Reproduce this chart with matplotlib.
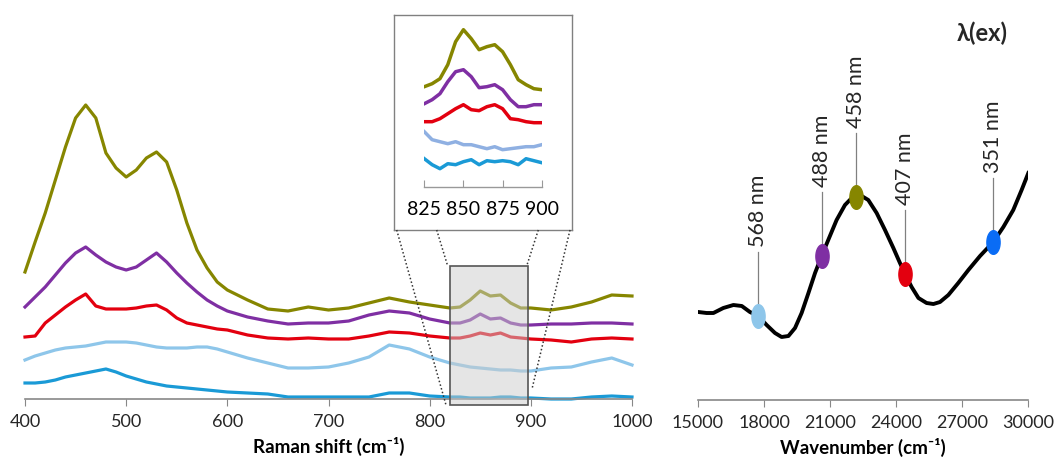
import numpy as np
import matplotlib
matplotlib.use("Agg")
import matplotlib.pyplot as plt
from matplotlib.patches import Rectangle
from matplotlib.lines import Line2D
from matplotlib.path import Path

plt.rcParams['font.family'] = ['Lato', 'DejaVu Sans']

# ---- Raman spectra (arbitrary intensity, stacked) ----
raman_x = [400, 410, 420, 430, 440, 450, 460, 470, 480, 490, 500, 510, 520, 530, 540,
           550, 560, 570, 580, 590, 600, 620, 640, 660, 680, 700, 720, 740, 760, 780,
           800, 820, 830, 840, 850, 860, 870, 880, 890, 900, 920, 940, 960, 980, 1000]

olive_y = [127, 157, 186, 219, 252, 281, 294, 281, 246, 231, 222, 229, 241, 247, 237,
           209, 176, 149, 131, 117, 109, 99, 90, 88, 92, 89, 91, 96, 101, 97,
           94, 91, 92, 99, 108, 103, 104, 96, 91, 91, 89, 92, 97, 104, 103]
purple_y = [92, 102, 112, 124, 136, 146, 152, 144, 137, 132, 129, 132, 139, 146, 137,
            126, 116, 107, 99, 93, 88, 82, 78, 75, 76, 76, 78, 84, 88, 86,
            80, 76, 76, 79, 85, 80, 81, 76, 74, 74, 75, 75, 76, 76, 75]
red_y = [62, 63, 76, 84, 92, 99, 105, 93, 90, 90, 90, 91, 93, 94, 89,
         81, 76, 74, 72, 70, 69, 64, 61, 60, 61, 60, 60, 63, 67, 66,
         63, 61, 61, 63, 66, 64, 66, 62, 61, 60, 59, 57, 60, 61, 60]
lblue_y = [39, 43, 46, 49, 51, 52, 53, 55, 57, 57, 57, 56, 54, 52, 51,
           51, 51, 52, 52, 50, 47, 41, 36, 31, 31, 32, 36, 42, 54, 50,
           42, 36, 34, 32, 31, 30, 29, 29, 28, 28, 31, 32, 37, 41, 34]
blue_y = [16, 16, 17, 19, 22, 24, 26, 28, 30, 27, 23, 20, 17, 15, 13,
          12, 11, 10, 9, 8, 7, 6, 5, 2, 2, 2, 2, 2, 6, 6,
          3, 2, 2, 1, 1, 1, 2, 2, 1, 1, 0, 0, 2, 3, 2]

# ---- zoomed inset 825-900 ----
inset_x = [825, 830, 835, 840, 845, 850, 855, 860, 865, 870, 875, 880, 885, 890, 895, 900]
inset_olive = [100, 103, 108, 122, 145, 157, 148, 137, 140, 142, 135, 122, 107, 102, 98, 97]
inset_purple = [83, 87, 93, 105, 115, 117, 110, 99, 100, 102, 97, 87, 80, 80, 82, 82]
inset_red = [65, 65, 68, 73, 78, 82, 77, 76, 80, 82, 78, 68, 67, 65, 64, 64]
inset_lblue = [55, 47, 45, 43, 45, 42, 42, 40, 38, 40, 37, 38, 39, 40, 40, 42]
inset_blue = [28, 22, 18, 23, 22, 25, 27, 22, 26, 25, 26, 25, 22, 28, 26, 24]

# ---- absorption spectrum ----
abs_wn = [15015, 15390, 15700, 16150, 16610, 16990, 17360, 17740, 18120, 18500, 18800,
          19110, 19410, 19710, 20020, 20320, 20620, 20920, 21300, 21680, 21990, 22180,
          22440, 22740, 23120, 23500, 23880, 24180, 24410, 24710, 25020, 25390, 25700,
          26000, 26380, 26830, 27290, 27820, 28420, 28880, 29330, 29710, 30015]
abs_y = [88, 87, 87, 92, 95, 94, 88, 84, 75, 67, 63, 64, 72, 87, 107, 127, 144, 160,
         180, 195, 202, 203, 204, 200, 187, 170, 152, 137, 126, 113, 102, 97, 96, 98,
         105, 117, 130, 144, 158, 173, 190, 210, 227]

exc_labels = ["568 nm", "488 nm", "458 nm", "407 nm", "351 nm"]
exc_wn = [17740, 20620, 22180, 24410, 28420]
exc_y = [84, 144, 203, 126, 158]

C_OLIVE = "#868600"
C_PURPLE = "#7f2fa3"
C_RED = "#e3000f"
C_LBLUE = "#8ec6ea"
C_LBLUE2 = "#8fb0e2"
C_BLUE = "#1a9ad6"
exc_colors = [C_LBLUE, C_PURPLE, C_OLIVE, C_RED, "#0a6cf5"]

W, H = 1055, 462
fig = plt.figure(figsize=(W / 100, H / 100), dpi=100)


def px_axes(x0, y0, x1, y1):
    # axes from pixel box (top-left origin)
    return fig.add_axes([x0 / W, 1 - y1 / H, (x1 - x0) / W, (y1 - y0) / H])


def style_bottom(ax, color="#888888"):
    for s in ["top", "left", "right"]:
        ax.spines[s].set_visible(False)
    ax.spines["bottom"].set_color(color)
    ax.spines["bottom"].set_linewidth(1.2)
    ax.set_yticks([])
    ax.patch.set_alpha(0)


tick_col = "#262626"

# left: Raman spectra
ax1 = px_axes(25, 0, 632, 399)
ax1.set_xlim(400, 1000)
ax1.set_ylim(0, 399)
for y, c in [(blue_y, C_BLUE), (lblue_y, C_LBLUE), (red_y, C_RED),
             (purple_y, C_PURPLE), (olive_y, C_OLIVE)]:
    ax1.plot(raman_x, y, color=c, lw=2.3, clip_on=False)
ax1.add_patch(Rectangle((820, -6), 77, 139, facecolor=(0.8, 0.8, 0.8, 0.5),
                        edgecolor="#555555", lw=1.2, zorder=5, clip_on=False))
style_bottom(ax1)
ax1.set_xticks(range(400, 1001, 100))
ax1.tick_params(axis="x", direction="out", length=5, color="#888888",
                labelsize=13, labelcolor=tick_col, pad=6)
ax1.set_xlabel("Raman shift (cm⁻¹)", fontsize=13.5, fontweight="bold", labelpad=5)

# inset frame
axb = px_axes(394, 15, 572, 230)
axb.set_xticks([])
axb.set_yticks([])
for s in axb.spines.values():
    s.set_color("#808080")
    s.set_linewidth(1.0)

# inset data
ax_in = px_axes(424.3, 15, 541.7, 186.7)
ax_in.set_xlim(825, 900)
ax_in.set_ylim(0, 171.7)
for y, c in [(inset_blue, C_BLUE), (inset_lblue, C_LBLUE2), (inset_red, C_RED),
             (inset_purple, C_PURPLE), (inset_olive, C_OLIVE)]:
    ax_in.plot(inset_x, y, color=c, lw=2.5)
style_bottom(ax_in, "#999999")
ax_in.spines["bottom"].set_linewidth(1.0)
ax_in.set_xticks([825, 850, 875, 900])
ax_in.tick_params(axis="x", direction="in", length=5, color="#999999",
                  labelsize=14, labelcolor="black", pad=10)

# dotted connectors
for (xa, ya), (xb, yb) in [((396.7, 230), (446, 405)), ((436.7, 230), (447.7, 266)),
                           ((538.3, 230), (526.7, 266)), ((570, 230), (532, 389))]:
    fig.add_artist(Line2D([xa / W, xb / W], [1 - ya / H, 1 - yb / H],
                          transform=fig.transFigure, color="#333333", lw=1.1,
                          linestyle=(0, (1, 1.5))))

# right: absorption
ax2 = px_axes(698, 0, 1028, 400)
ax2.set_xlim(15000, 30000)
ax2.set_ylim(0, 400)
ax2.plot(abs_wn, abs_y, color="black", lw=2.8, zorder=2)

t = np.linspace(0, 2 * np.pi, 60)
ell = Path(np.column_stack([0.56 * np.cos(t), np.sin(t)]))
for lab, wn, y, c in zip(exc_labels, exc_wn, exc_y, exc_colors):
    ax2.plot([wn, wn], [y, y + 64], color="#808080", lw=0.9, zorder=1)
    ax2.plot(wn, y, marker=ell, markersize=17, color=c, mec=c, zorder=3)
    ax2.text(wn, y + 69, lab, rotation=90, ha="center", va="bottom",
             fontsize=15.5, color=tick_col)
fig.text(982 / W, 1 - 33 / H, "λ(ex)", ha="center", va="center",
         fontsize=17, fontweight="bold", color=tick_col)
style_bottom(ax2)
ax2.set_xticks(range(15000, 30001, 3000))
ax2.tick_params(axis="x", direction="out", length=5, color="#888888",
                labelsize=13, labelcolor=tick_col, pad=6)
ax2.set_xlabel("Wavenumber (cm⁻¹)", fontsize=13.5, fontweight="bold", labelpad=5)

fig.savefig("out.png", dpi=100)
